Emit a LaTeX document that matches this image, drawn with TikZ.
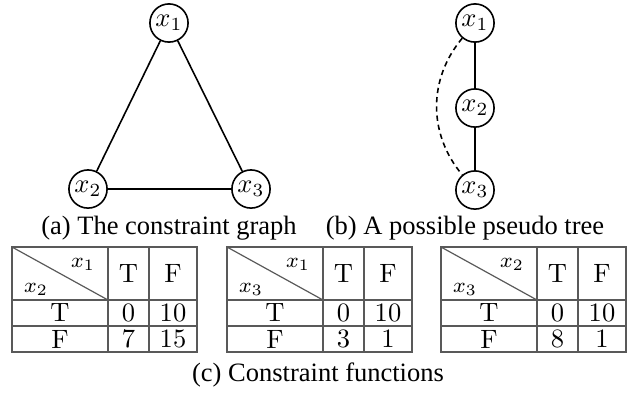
\documentclass[tikz,border=0pt]{standalone}
\usepackage{fontspec}
\newfontfamily\capfont{Liberation Serif}
\begin{document}
\begin{tikzpicture}[x=0.3772pt, y=-0.3772pt,
    var/.style={draw, circle, line width=0.6pt, minimum size=14.4pt, inner sep=0pt},
    edge/.style={line width=0.6pt},
    tabline/.style={draw=black!65, line width=0.45pt},
    subcap/.style={font=\capfont, inner sep=0pt, anchor=base}]
    \useasboundingbox (0,0) rectangle (639,395);

    % --- (a) GRAFO DE RESTRICCIONES ---
    \node[var] (a1) at (169,23)  {$x_1$};
    \node[var] (a2) at (88,189)  {$x_2$};
    \node[var] (a3) at (251,189) {$x_3$};
    \draw[edge] (a1) -- (a2);
    \draw[edge] (a1) -- (a3);
    \draw[edge] (a2) -- (a3);
    \node[subcap] (capa) at (169,234) {(a) The constraint graph};

    % --- (b) PSEUDO ARBOL ---
    \node[var] (b1) at (475,23)  {$x_1$};
    \node[var] (b2) at (475,108) {$x_2$};
    \node[var] (b3) at (475,190) {$x_3$};
    \draw[edge] (b1) -- (b2);
    \draw[edge] (b2) -- (b3);
    \draw[edge, dash pattern=on 2pt off 1.5pt] (b1) to[bend right=40] (b3); % arista de retroceso
    \node[subcap] (capb) at (465,234) {(b) A possible pseudo tree};

    % --- (c) TABLAS DE COSTE ---
    \foreach \ox/\cv/\rv/\va/\vb/\vc/\vd [count=\i] in {12/1/2/0/10/7/15, 227/1/3/0/10/3/1, 441/2/3/0/10/8/1}{
        \draw[tabline] (\ox,247) rectangle ({\ox+185},352);
        \draw[tabline] ({\ox+96},247) -- ({\ox+96},352);
        \draw[tabline] ({\ox+137},247) -- ({\ox+137},352);
        \draw[tabline] (\ox,300) -- ({\ox+185},300);
        \draw[tabline] (\ox,326) -- ({\ox+185},326);
        \draw[tabline] (\ox,247) -- ({\ox+96},300); % diagonal
        \node[font=\footnotesize] (cv\i) at ({\ox+71},264) {$x_{\cv}$};
        \node[font=\footnotesize] (rv\i) at ({\ox+24},289) {$x_{\rv}$};
        \node (hT\i) at ({\ox+116.5},273.5) {T};
        \node (hF\i) at ({\ox+161},273.5)   {F};
        \node (rT\i) at ({\ox+48},313) {T};
        \node (rF\i) at ({\ox+48},339) {F};
        \node (va\i) at ({\ox+116.5},313) {\va};
        \node (vb\i) at ({\ox+161},313)   {\vb};
        \node (vc\i) at ({\ox+116.5},339) {\vc};
        \node (vd\i) at ({\ox+161},339)   {\vd};
    }
    \node[subcap] (capc) at (318,381) {(c) Constraint functions};

\end{tikzpicture}
\end{document}
